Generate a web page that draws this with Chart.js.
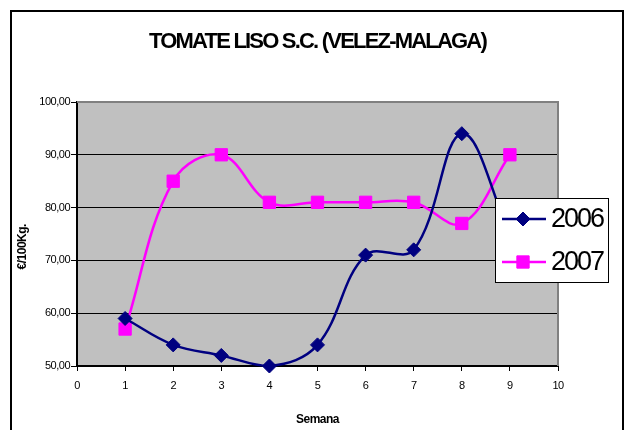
<!DOCTYPE html>
<html>
<head>
<meta charset="utf-8">
<script src="https://cdn.jsdelivr.net/npm/chart.js@4.4.1/dist/chart.umd.min.js"></script>
<style>
html,body{margin:0;padding:0;background:#fff;}
#wrap{width:625px;height:430px;position:relative;}
canvas{display:block;}
</style>
</head>
<body>
<div id="wrap"><canvas id="c" width="625" height="430"></canvas></div>
<script>
// ---- data ----
const weeks = [1, 2, 3, 4, 5, 6, 7, 8, 9];
const v2006 = [59, 54, 52, 50, 54, 71, 72, 94, 75];
const v2007 = [57, 85, 90, 81, 81, 81, 81, 77, 90];
const seriesNames = ['2006', '2007'];
const xRange = [0, 10];
const yRange = [50, 100];
const yStep = 10;
const chartTitle = 'TOMATE LISO S.C. (VELEZ-MALAGA)';
const xTitle = 'Semana';
const yTitle = '€/100Kg.';

const FONT = '"Liberation Sans", Arial, Helvetica, sans-serif';
const toPts = arr => weeks.map((w, i) => ({ x: w, y: arr[i] }));

const bgPlugin = {
  id: 'bg',
  beforeDraw(chart) {
    const { ctx, chartArea: a } = chart;
    ctx.save();
    ctx.fillStyle = '#fff';
    ctx.fillRect(0, 0, chart.width, chart.height);
    ctx.fillStyle = '#C0C0C0';
    ctx.fillRect(a.left, a.top, a.right - a.left, a.bottom - a.top);
    ctx.strokeStyle = '#000';
    ctx.lineWidth = 2;
    ctx.strokeRect(11, 11, 612, 450);
    // chart title
    ctx.letterSpacing = '-1.8px';
    ctx.fillStyle = '#000';
    ctx.font = 'bold 22px ' + FONT;
    ctx.textAlign = 'center';
    ctx.textBaseline = 'middle';
    ctx.fillText(chartTitle, 317.5, 42);
    ctx.restore();
    ctx.letterSpacing = '-0.5px';
  },
  beforeDatasetsDraw(chart) {
    const { ctx, chartArea: a } = chart;
    ctx.save();
    ctx.strokeStyle = '#808080';
    ctx.lineWidth = 2;
    ctx.beginPath();
    ctx.moveTo(a.left, a.top);
    ctx.lineTo(a.right, a.top);
    ctx.lineTo(a.right, a.bottom);
    ctx.stroke();
    ctx.restore();
  }
};

function marker(ctx, style, radius, x, y) {
  if (Chart.helpers && Chart.helpers.drawPoint) {
    Chart.helpers.drawPoint(ctx, { pointStyle: style, radius: radius, rotation: 0, borderWidth: 1 }, x, y);
  } else {
    ctx.beginPath();
    if (style === 'rectRot') {
      ctx.moveTo(x, y - radius); ctx.lineTo(x + radius, y); ctx.lineTo(x, y + radius); ctx.lineTo(x - radius, y);
    } else {
      const s = radius * Math.SQRT1_2;
      ctx.rect(x - s, y - s, 2 * s, 2 * s);
    }
    ctx.closePath(); ctx.fill(); ctx.stroke();
  }
}

const legendPlugin = {
  id: 'boxLegend',
  afterDraw(chart) {
    const ctx = chart.ctx;
    const box = { x: 495, y: 198, w: 113, h: 84 };
    ctx.save();
    ctx.fillStyle = '#fff';
    ctx.fillRect(box.x, box.y, box.w, box.h);
    ctx.strokeStyle = '#000';
    ctx.lineWidth = 1;
    ctx.strokeRect(box.x + 0.5, box.y + 0.5, box.w, box.h);
    chart.data.datasets.forEach((ds, i) => {
      const y = box.y + 21 + i * 43;
      ctx.strokeStyle = ds.borderColor;
      ctx.lineWidth = ds.borderWidth;
      ctx.beginPath();
      ctx.moveTo(box.x + 7, y);
      ctx.lineTo(box.x + 51, y);
      ctx.stroke();
      ctx.fillStyle = ds.pointBackgroundColor;
      ctx.strokeStyle = ds.pointBorderColor;
      ctx.lineWidth = 1;
      marker(ctx, ds.pointStyle, ds.pointRadius, box.x + 28, y);
      ctx.letterSpacing = '-2px';
      ctx.fillStyle = '#000';
      ctx.font = '27px ' + FONT;
      ctx.textBaseline = 'middle';
      ctx.textAlign = 'left';
      ctx.fillText(ds.label, box.x + 56, y + 1);
    });
    ctx.restore();
  }
};

new Chart(document.getElementById('c'), {
  type: 'line',
  data: {
    datasets: [
      {
        label: seriesNames[0], data: toPts(v2006),
        borderColor: '#000080', backgroundColor: '#000080',
        pointBackgroundColor: '#000080', pointBorderColor: '#000080',
        borderWidth: 2.5, pointStyle: 'rectRot', pointRadius: 7, pointBorderWidth: 1,
        tension: 0.38, clip: false
      },
      {
        label: seriesNames[1], data: toPts(v2007),
        borderColor: '#FF00FF', backgroundColor: '#FF00FF',
        pointBackgroundColor: '#FF00FF', pointBorderColor: '#FF00FF',
        borderWidth: 2.5, pointStyle: 'rect', pointRadius: 8.7, pointBorderWidth: 1,
        tension: 0.38, clip: false
      }
    ]
  },
  options: {
    responsive: false,
    animation: false,
    devicePixelRatio: 1,
    layout: { padding: { left: 9, right: 0, top: 102, bottom: 0 } },
    plugins: {
      legend: { display: false },
      tooltip: { enabled: false },
      title: { display: false }
    },
    scales: {
      x: {
        type: 'linear', position: 'bottom', min: xRange[0], max: xRange[1],
        afterFit(s) { s.height = 64; },
        ticks: { stepSize: 1, color: '#000', padding: 8, font: { family: FONT, size: 11 }, maxRotation: 0 },
        grid: { drawOnChartArea: false, drawTicks: true, tickLength: 5, color: '#000', tickColor: '#000' },
        border: { display: true, color: '#000', width: 2 },
        title: {
          display: true, text: xTitle, color: '#000',
          font: { family: FONT, size: 12, weight: 'bold' },
          padding: { top: 0, bottom: 3 }
        }
      },
      y: {
        type: 'linear', position: 'left', min: yRange[0], max: yRange[1],
        afterFit(s) { s.width = 68; },
        ticks: {
          stepSize: yStep, color: '#000', padding: 1,
          font: { family: FONT, size: 11 },
          callback: v => v.toFixed(2).replace('.', ',')
        },
        grid: {
          color: c => (c.tick && c.tick.value === yRange[1]) ? 'rgba(0,0,0,0)' : '#000',
          tickColor: '#000', lineWidth: 1, tickLength: 6
        },
        border: { display: true, color: '#000', width: 2 },
        title: {
          display: true, text: yTitle + '         ', color: '#000',
          font: { family: FONT, size: 12, weight: 'bold' },
          padding: { top: 6, bottom: 0 }
        }
      },
      yRight: {
        type: 'linear', position: 'right', display: true,
        afterFit(s) { s.width = 67; },
        ticks: { display: false },
        grid: { display: false, drawTicks: false },
        border: { display: false }
      }
    }
  },
  plugins: [bgPlugin, legendPlugin]
});
</script>
</body>
</html>
